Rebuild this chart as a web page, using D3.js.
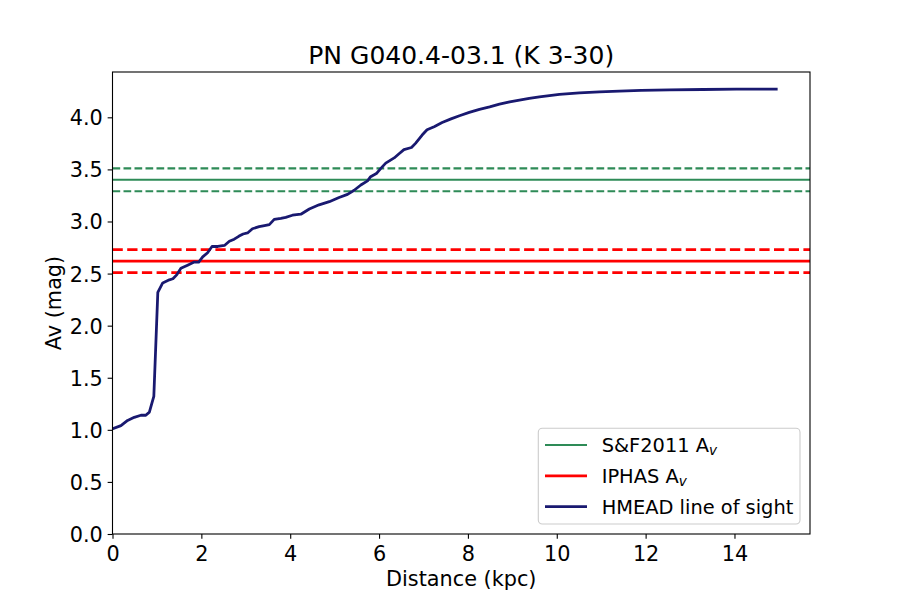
<!DOCTYPE html>
<html>
<head>
<meta charset="utf-8">
<script src="https://cdn.jsdelivr.net/npm/d3@7"></script>
<style>
  body { margin: 0; background: #fff; }
  svg text { font-family: "DejaVu Sans", sans-serif; fill: #000; }
</style>
</head>
<body>
<div id="chart"></div>
<script>
// HMEAD line-of-sight extinction
const distance = [0, 0.19, 0.34, 0.49, 0.64, 0.75, 0.83, 0.93, 1.02, 1.13, 1.28, 1.36, 1.45, 1.54,
  1.69, 1.84, 1.94, 2.03, 2.14, 2.24, 2.37, 2.52, 2.63, 2.74, 2.85, 2.94, 3.04, 3.15, 3.30, 3.42,
  3.53, 3.64, 3.79, 3.90, 4.05, 4.24, 4.43, 4.65, 4.88, 5.10, 5.29, 5.44, 5.59, 5.74, 5.81, 5.94,
  6.04, 6.15, 6.34, 6.45, 6.56, 6.73, 6.82, 6.97, 7.08, 7.24, 7.42, 7.62, 7.81, 8.03, 8.26, 8.49,
  8.71, 8.94, 9.16, 9.38, 9.61, 10.06, 10.51, 10.96, 11.41, 11.90, 12.54, 13.29, 14.04, 14.94];
const avHmead = [1.01, 1.04, 1.09, 1.12, 1.14, 1.14, 1.17, 1.32, 2.32, 2.41, 2.44, 2.45, 2.49, 2.55,
  2.58, 2.61, 2.61, 2.66, 2.70, 2.76, 2.76, 2.77, 2.81, 2.83, 2.86, 2.88, 2.89, 2.93, 2.95, 2.96,
  2.97, 3.02, 3.03, 3.04, 3.06, 3.07, 3.12, 3.16, 3.19, 3.23, 3.26, 3.30, 3.35, 3.39, 3.43, 3.46,
  3.51, 3.56, 3.61, 3.65, 3.69, 3.71, 3.75, 3.83, 3.88, 3.91, 3.95, 3.985, 4.015, 4.047, 4.076, 4.10,
  4.127, 4.148, 4.165, 4.182, 4.197, 4.22, 4.235, 4.245, 4.252, 4.258, 4.263, 4.267, 4.27, 4.27];

// [value - err, value, value + err]
const sfAv = [3.29, 3.40, 3.51];
const iphasAv = [2.51, 2.62, 2.73];

const xTicks = [0, 2, 4, 6, 8, 10, 12, 14];
const yTicks = [0, 0.5, 1.0, 1.5, 2.0, 2.5, 3.0, 3.5, 4.0];
const legendLabels = ["S&F2011 A", "IPHAS A", "HMEAD line of sight"];

(function () {
  const W = 900, H = 600;
  const margin = { top: 72, right: 90, bottom: 66, left: 112.5 };
  const x0 = margin.left, x1 = W - margin.right, y0 = H - margin.bottom, y1 = margin.top;

  const svg = d3.select("#chart").append("svg")
    .attr("width", W).attr("height", H);

  const x = d3.scaleLinear().domain([0, 15.7]).range([x0, x1]);
  const y = d3.scaleLinear().domain([0, 4.435]).range([y0, y1]);

  const green = "#2e8b57", red = "#ff0000", blue = "#191970";

  svg.append("clipPath").attr("id", "plot-clip")
    .append("rect").attr("x", x0).attr("y", y1).attr("width", x1 - x0).attr("height", y0 - y1);
  const plot = svg.append("g").attr("clip-path", "url(#plot-clip)");

  // horizontal reference lines
  function hlines(vals, color, w, dash) {
    vals.forEach((v, i) => {
      plot.append("line")
        .attr("x1", x0).attr("x2", x1)
        .attr("y1", y(v)).attr("y2", y(v))
        .attr("stroke", color)
        .attr("stroke-width", w)
        .attr("stroke-dasharray", i === 1 ? null : dash);
    });
  }
  hlines(sfAv, green, 2.08, "7.7 3.3");
  hlines(iphasAv, red, 2.78, "10.3 4.4");

  // line of sight
  const pts = distance.map((d, i) => [d, avHmead[i]]);
  plot.append("path")
    .datum(pts)
    .attr("d", d3.line().x(d => x(d[0])).y(d => y(d[1])))
    .attr("fill", "none")
    .attr("stroke", blue)
    .attr("stroke-width", 2.78)
    .attr("stroke-linejoin", "round")
    .attr("stroke-linecap", "square");

  // axes
  const xAxis = svg.append("g")
    .attr("transform", `translate(0,${y0})`)
    .call(d3.axisBottom(x).tickValues(xTicks).tickSize(4.86).tickPadding(4.86).tickFormat(d3.format("d")));
  const yAxis = svg.append("g")
    .attr("transform", `translate(${x0},0)`)
    .call(d3.axisLeft(y).tickValues(yTicks).tickSize(4.86).tickPadding(4.86).tickFormat(d3.format(".1f")));
  [xAxis, yAxis].forEach(g => {
    g.select(".domain").remove();
    g.selectAll(".tick line").attr("stroke", "#000").attr("stroke-width", 1.1);
    g.selectAll(".tick text").attr("font-size", "20.8px").attr("font-family", "DejaVu Sans");
  });
  xAxis.selectAll(".tick text").attr("dy", null).attr("y", 26.5);
  yAxis.selectAll(".tick text").attr("dy", "0.36em");

  // spines
  svg.append("rect")
    .attr("x", x0).attr("y", y1).attr("width", x1 - x0).attr("height", y0 - y1)
    .attr("fill", "none").attr("stroke", "#000").attr("stroke-width", 1.1);

  // titles
  svg.append("text")
    .attr("x", (x0 + x1) / 2).attr("y", 63.5)
    .attr("text-anchor", "middle").attr("font-size", "25px")
    .text("PN G040.4-03.1 (K 3-30)");
  svg.append("text")
    .attr("x", (x0 + x1) / 2).attr("y", 586)
    .attr("text-anchor", "middle").attr("font-size", "20.8px")
    .text("Distance (kpc)");
  svg.append("text")
    .attr("transform", `translate(61,${(y0 + y1) / 2}) rotate(-90)`)
    .attr("text-anchor", "middle").attr("font-size", "20.8px")
    .text("Av (mag)");

  // legend
  const leg = svg.append("g");
  leg.append("rect")
    .attr("x", 538.3).attr("y", 428.3).attr("width", 261.7).attr("height", 95.7)
    .attr("rx", 4).attr("ry", 4)
    .attr("fill", "#fff").attr("fill-opacity", 0.8)
    .attr("stroke", "#cccccc").attr("stroke-width", 1.1);
  const legColors = [green, red, blue];
  const legWidths = [2.08, 2.78, 2.78];
  legendLabels.forEach((lab, i) => {
    const ly = 445 + i * 30.85;
    leg.append("line")
      .attr("x1", 545).attr("x2", 587).attr("y1", ly).attr("y2", ly)
      .attr("stroke", legColors[i]).attr("stroke-width", legWidths[i]);
    const t = leg.append("text")
      .attr("x", 601.7).attr("y", ly + 7)
      .attr("font-size", "19.4px");
    t.append("tspan").text(lab);
    if (i < 2) {
      t.append("tspan")
        .attr("font-style", "italic").attr("font-size", "13.6px")
        .attr("dy", 3).text("v");
    }
  });
})();
</script>
</body>
</html>
